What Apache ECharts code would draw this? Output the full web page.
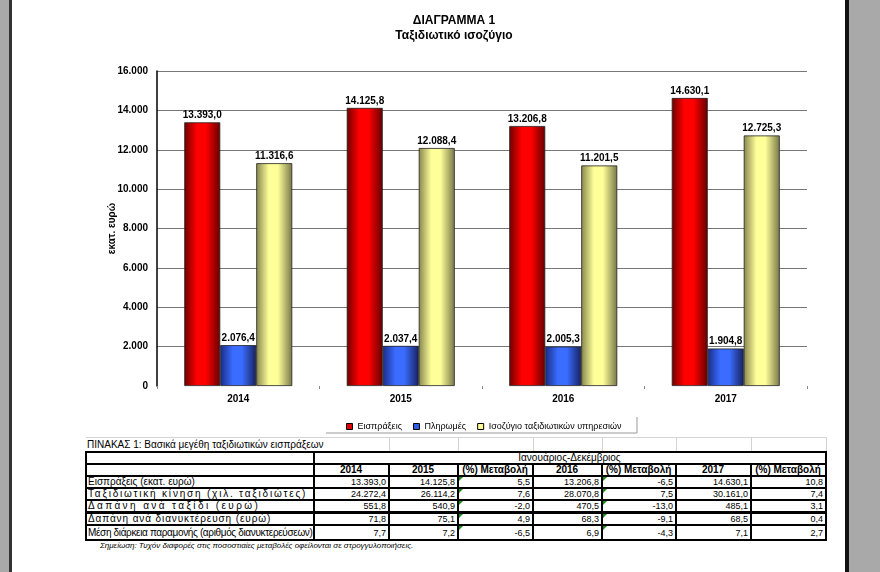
<!DOCTYPE html>
<html>
<head>
<meta charset="utf-8">
<script src="https://cdn.jsdelivr.net/npm/echarts@6/dist/echarts.min.js"></script>
<style>
  html, body { margin: 0; padding: 0; background: #fff; }
  body { width: 880px; height: 572px; position: relative; overflow: hidden; font-family: Arial, "Liberation Sans", sans-serif; }
  .edge { position: absolute; top: 0; height: 572px; }
  #chart { position: absolute; left: 12px; top: 0; width: 833px; height: 437px; }
  #tbl { position: absolute; left: 85px; top: 437px; width: 740px; }
  table { border-collapse: collapse; table-layout: fixed; width: 740px; font-size: 10px; color: #000; }
  td { padding: 0 2px 0 1px; line-height: 10px; white-space: nowrap; overflow: visible; position: relative; }
  tr.cap td { height: 13px; line-height: 13px; border-top: 1px solid #d4d4d4; border-right: 1px solid #d4d4d4; }
  tr.cap td.t { font-size: 10px; }
  tr.b td { border: 2px solid #000; }
  tr.b td.n { text-align: right; font-size: 9px; }
  tr.h td { text-align: center; font-weight: bold; }
  tr.thick td { border-top-width: 3px; }
  td.g::before { content: ""; position: absolute; left: 0; top: 0; border-top: 4px solid #1a8a1a; border-right: 4px solid transparent; }
  #note { position: absolute; left: 100px; top: 541px; font-size: 8px; font-style: italic; color: #000; }
</style>
</head>
<body>
<div class="edge" style="left:0;width:9px;background:#a9a9a9"></div>
<div class="edge" style="left:9px;width:3px;background:#333"></div>
<div class="edge" style="left:845px;width:4px;background:#111"></div>
<div class="edge" style="left:849px;width:31px;background:#a9a9a9"></div>
<div id="chart"></div>
<div id="tbl"></div>
<div id="note">Σημείωση: Τυχόν διαφορές στις ποσοστιαίες μεταβολές οφείλονται σε στρογγυλοποιήσεις.</div>
<script>
  // chart data
  var years = ["2014", "2015", "2016", "2017"];
  var receipts = [13393.0, 14125.8, 13206.8, 14630.1];
  var payments = [2076.4, 2037.4, 2005.3, 1904.8];
  var balance = [11316.6, 12088.4, 11201.5, 12725.3];
  var seriesNames = ["Εισπράξεις", "Πληρωμές", "Ισοζύγιο ταξιδιωτικών υπηρεσιών"];

  // table data
  var rowNames = [
    "Εισπράξεις (εκατ. ευρώ)",
    "Ταξιδιωτική κίνηση (χιλ. ταξιδιώτες)",
    "Δαπάνη ανά ταξίδι (ευρώ)",
    "Δαπάνη ανά διανυκτέρευση (ευρώ)",
    "Μέση διάρκεια παραμονής (αριθμός διανυκτερεύσεων)"
  ];
  var t2014 = [13393.0, 24272.4, 551.8, 71.8, 7.7];
  var t2015 = [14125.8, 26114.2, 540.9, 75.1, 7.2];
  var ch2015 = [5.5, 7.6, -2.0, 4.9, -6.5];
  var t2016 = [13206.8, 28070.8, 470.5, 68.3, 6.9];
  var ch2016 = [-6.5, 7.5, -13.0, -9.1, -4.3];
  var t2017 = [14630.1, 30161.0, 485.1, 68.5, 7.1];
  var ch2017 = [10.8, 7.4, 3.1, 0.4, 2.7];

  // the scanned table stretches its row labels unevenly
  var labelSpacing = [0, 1.8, 2.4, 0.9, -0.35];

  function grp(s) {
    return s.replace(/\B(?=(\d{3})+(?!\d))/g, ".");
  }
  function fmt(v) {
    var p = v.toFixed(1).split(".");
    return grp(p[0]) + "," + p[1];
  }

  function grad(edgeL, mid, edgeR) {
    return new echarts.graphic.LinearGradient(0, 0, 1, 0, [
      { offset: 0, color: edgeL },
      { offset: 0.35, color: mid },
      { offset: 0.6, color: mid },
      { offset: 1, color: edgeR }
    ]);
  }

  var labelStyle = {
    show: true,
    position: "top",
    distance: 2,
    fontSize: 10,
    fontWeight: "bold",
    color: "#000",
    fontFamily: "Arial",
    formatter: function(p) { return fmt(p.value); }
  };

  function bar(name, data, color) {
    return {
      name: name,
      type: "bar",
      data: data,
      barWidth: 36,
      barGap: "0%",
      itemStyle: { color: color, borderColor: "#222", borderWidth: 0.8 },
      label: labelStyle
    };
  }

  var gridColors = ["rgba(0,0,0,0)"];
  for (var i = 0; i < 8; i++) gridColors.push("#777");

  var myChart = echarts.init(document.getElementById("chart"));
  var option = {
    animation: false,
    title: {
      text: "ΔΙΑΓΡΑΜΜΑ 1",
      subtext: "Ταξιδιωτικό ισοζύγιο",
      left: 437,
      top: 10,
      textAlign: "center",
      itemGap: 3,
      textStyle: { fontSize: 12, fontWeight: "bold", color: "#000", fontFamily: "Arial" },
      subtextStyle: { fontSize: 12, fontWeight: "bold", color: "#000", fontFamily: "Arial" }
    },
    legend: {
      left: 334,
      top: 422,
      padding: 0,
      itemWidth: 6,
      itemHeight: 6,
      itemGap: 11,
      icon: "rect",
      textStyle: { fontSize: 9, color: "#000", fontFamily: "Arial" },
      data: [
        { name: seriesNames[0], itemStyle: { color: "#e00000", borderColor: "#000", borderWidth: 1 } },
        { name: seriesNames[1], itemStyle: { color: "#2f5fe8", borderColor: "#000", borderWidth: 1 } },
        { name: seriesNames[2], itemStyle: { color: "#ffff99", borderColor: "#000", borderWidth: 1 } }
      ]
    },
    grid: { left: 145, right: 38, top: 71, bottom: 51 },
    xAxis: {
      type: "category",
      data: years,
      axisLine: { show: false },
      axisTick: { show: true, length: 3, lineStyle: { color: "#888" } },
      axisLabel: { fontSize: 10, fontWeight: "bold", color: "#000", fontFamily: "Arial", margin: 8 }
    },
    yAxis: {
      type: "value",
      min: 0,
      max: 16000,
      interval: 2000,
      name: "εκατ. ευρώ",
      nameLocation: "middle",
      nameGap: 40,
      nameRotate: 90,
      nameMoveOverlap: false,
      nameTextStyle: { fontSize: 10, fontWeight: "bold", color: "#000", fontFamily: "Arial" },
      axisLine: { show: true, lineStyle: { color: "#000", width: 1.5 } },
      axisTick: { show: false },
      axisLabel: {
        fontSize: 10, fontWeight: "bold", color: "#000", fontFamily: "Arial", margin: 9,
        formatter: function(v) { return grp(String(v)); }
      },
      splitLine: { show: true, lineStyle: { color: gridColors, width: 1 } }
    },
    series: [
      bar(seriesNames[0], receipts, grad("#6e0000", "#ff0000", "#650000")),
      bar(seriesNames[1], payments, grad("#1a2c86", "#3a6cff", "#17215e")),
      bar(seriesNames[2], balance, grad("#85854e", "#ffff99", "#76764a"))
    ],
    graphic: [
      { type: "line", shape: { x1: 314, y1: 433, x2: 625, y2: 433 }, style: { stroke: "#999", lineWidth: 1 } },
      { type: "line", shape: { x1: 625, y1: 417, x2: 625, y2: 433 }, style: { stroke: "#999", lineWidth: 1 } }
    ]
  };
  myChart.setOption(option);
  window.addEventListener("resize", function() {
    myChart.resize();
  });

  // table below the chart
  var html = '<table><colgroup>' +
    '<col style="width:228px"><col style="width:75px"><col style="width:69px"><col style="width:75px">' +
    '<col style="width:69px"><col style="width:74px"><col style="width:75px"><col style="width:75px"></colgroup>';
  html += '<tr class="cap"><td class="t" colspan="2">ΠΙΝΑΚΑΣ 1: Βασικά μεγέθη ταξιδιωτικών εισπράξεων</td>' +
    '<td></td><td></td><td></td><td></td><td></td><td></td></tr>';
  html += '<tr class="b h"><td></td><td colspan="7" style="font-weight:normal">Ιανουάριος-Δεκέμβριος</td></tr>';
  html += '<tr class="b h"><td></td><td>2014</td><td>2015</td><td>(%) Μεταβολή</td><td>2016</td>' +
    '<td>(%) Μεταβολή</td><td>2017</td><td>(%) Μεταβολή</td></tr>';
  for (var r = 0; r < rowNames.length; r++) {
    var cls = "b" + (r === 3 ? " thick" : "");
    var st = r === 4 ? ' style="height:15px"' : "";
    html += '<tr class="' + cls + '"' + st + '><td style="letter-spacing:' + labelSpacing[r] + 'px">' + rowNames[r] + '</td>' +
      '<td class="n">' + fmt(t2014[r]) + '</td>' +
      '<td class="n">' + fmt(t2015[r]) + '</td>' +
      '<td class="n g">' + fmt(ch2015[r]) + '</td>' +
      '<td class="n">' + fmt(t2016[r]) + '</td>' +
      '<td class="n g">' + fmt(ch2016[r]) + '</td>' +
      '<td class="n">' + fmt(t2017[r]) + '</td>' +
      '<td class="n">' + fmt(ch2017[r]) + '</td></tr>';
  }
  html += '</table>';
  document.getElementById("tbl").innerHTML = html;
</script>
</body>
</html>
